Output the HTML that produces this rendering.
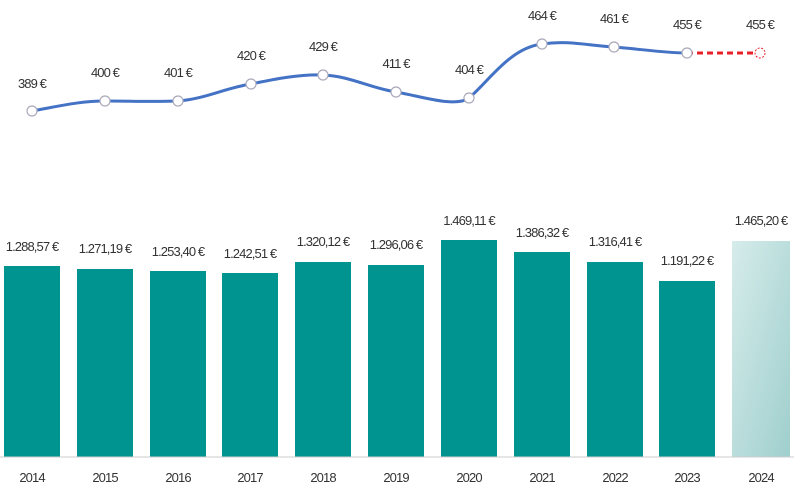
<!DOCTYPE html>
<html><head><meta charset="utf-8"><style>
body{margin:0;background:#fff;}
svg text{font-family:"Liberation Sans",sans-serif;font-size:13px;fill:#333;letter-spacing:-0.9px;}
</style></head><body>
<svg width="794" height="494" viewBox="0 0 794 494">
<defs><linearGradient id="g" x1="0" y1="0" x2="1" y2="1"><stop offset="0" stop-color="#d6eceb"/><stop offset="1" stop-color="#9fcfcd"/></linearGradient></defs>
<g fill="#009490">
<rect x="4" y="266" width="56" height="191"/>
<rect x="77" y="269" width="56" height="188"/>
<rect x="150" y="271" width="56" height="186"/>
<rect x="222" y="273" width="56" height="184"/>
<rect x="295" y="262" width="56" height="195"/>
<rect x="368" y="265" width="56" height="192"/>
<rect x="441" y="240" width="56" height="217"/>
<rect x="514" y="252" width="56" height="205"/>
<rect x="587" y="262" width="56" height="195"/>
<rect x="659" y="281" width="56" height="176"/>
</g>
<rect x="732" y="241" width="58" height="216" fill="url(#g)"/>
<line x1="0" y1="457" x2="794" y2="457" stroke="#ccc" stroke-width="1"/>
<g text-anchor="middle">
<text x="32" y="251">1.288,57 €</text><text x="105" y="253">1.271,19 €</text><text x="178" y="256">1.253,40 €</text><text x="250" y="258">1.242,51 €</text><text x="323" y="246">1.320,12 €</text><text x="396" y="249">1.296,06 €</text><text x="469" y="225">1.469,11 €</text><text x="542" y="237">1.386,32 €</text><text x="615" y="246">1.316,41 €</text><text x="687" y="265">1.191,22 €</text><text x="761" y="225">1.465,20 €</text>
<text x="32" y="482">2014</text><text x="105" y="482">2015</text><text x="178" y="482">2016</text><text x="250" y="482">2017</text><text x="323" y="482">2018</text><text x="396" y="482">2019</text><text x="469" y="482">2020</text><text x="542" y="482">2021</text><text x="615" y="482">2022</text><text x="687" y="482">2023</text><text x="761" y="482">2024</text>
<text x="32" y="88">389 €</text><text x="105" y="77">400 €</text><text x="178" y="77">401 €</text><text x="251" y="60">420 €</text><text x="323" y="51">429 €</text><text x="396" y="68">411 €</text><text x="469" y="74">404 €</text><text x="542" y="20">464 €</text><text x="614" y="23">461 €</text><text x="687" y="29">455 €</text><text x="760" y="29">455 €</text>
</g>
<path d="M32,111 C60,106 80,101 105,101 C130,101 155,102 178,101 C205,99 225,88 251,84 C275,79 300,74 323,75 C350,76 370,88 396,92 C420,96 455,108 469,98 C490,80 510,48 542,44 C570,40 590,46 614,47 C640,49 665,53 687,53" fill="none" stroke="#4472c4" stroke-width="3"/>
<line x1="687" y1="53" x2="760" y2="53" stroke="#e8202a" stroke-width="3" stroke-dasharray="6,4"/>
<g fill="#fff" stroke="#aab" stroke-width="1.2">
<circle cx="32" cy="111" r="5"/><circle cx="105" cy="101" r="5"/><circle cx="178" cy="101" r="5"/><circle cx="251" cy="84" r="5"/><circle cx="323" cy="75" r="5"/><circle cx="396" cy="92" r="5"/><circle cx="469" cy="98" r="5"/><circle cx="542" cy="44" r="5"/><circle cx="614" cy="47" r="5"/><circle cx="687" cy="53" r="5"/>
</g>
<circle cx="760" cy="53" r="5" fill="#fff" stroke="#e8202a" stroke-width="1" stroke-dasharray="2,1.5"/>
</svg>
</body></html>
